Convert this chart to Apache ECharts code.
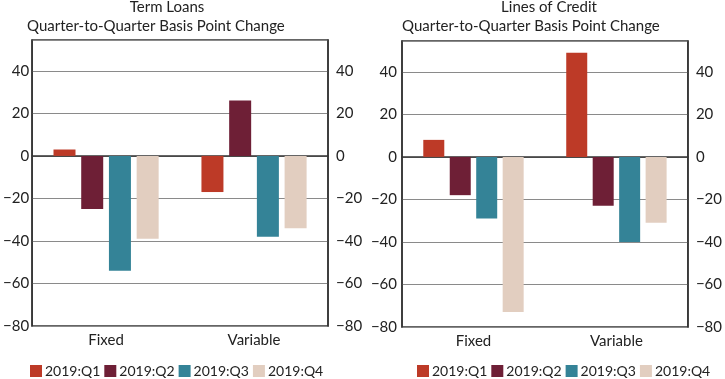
<!DOCTYPE html>
<html><head><meta charset="utf-8">
<script src="https://cdn.jsdelivr.net/npm/echarts@6/dist/echarts.min.js"></script>
<style>html,body{margin:0;padding:0;background:#fff}#c{width:725px;height:379px}</style>
</head><body><div id="c"></div>
<script>
const categories = ['Fixed', 'Variable'];
const seriesNames = ['2019:Q1', '2019:Q2', '2019:Q3', '2019:Q4'];
const termLoansQ1 = [3, -17];
const termLoansQ2 = [-25, 26];
const termLoansQ3 = [-54, -38];
const termLoansQ4 = [-39, -34];
const creditQ1 = [8, 49];
const creditQ2 = [-18, -23];
const creditQ3 = [-29, -40];
const creditQ4 = [-73, -31];
const panelTitles = ['Term Loans', 'Lines of Credit'];
const subTitle = 'Quarter-to-Quarter Basis Point Change';
const colors = ['#bd3a27', '#6e1f36', '#348397', '#e2cec0'];

const FONT = 'Lato';
const grids = [
  {left: 27, top: 40, width: 301, height: 286},
  {left: 402, top: 41, width: 292, height: 286}
];
const chart = echarts.init(document.getElementById('c'));
function yAx(gi, pos, margin, pad) {
  return {
    type: 'value', gridIndex: gi, position: pos, min: -80, max: 54.5, interval: 20,
    axisLine: {show: true, lineStyle: {color: '#333', width: 1.5}},
    axisTick: {show: false},
    splitLine: {show: pos === 'left', lineStyle: {color: '#8a8a8a', width: 1}},
    axisLabel: {show: true, showMaxLabel: false, margin: margin, color: '#222', fontFamily: FONT, fontSize: 15,
      padding: pad,
      formatter: v => (v % 20 === 0 ? (v < 0 ? '\u2212' + Math.abs(v) : String(v)) : '')}
  };
}
const data = [[termLoansQ1, termLoansQ2, termLoansQ3, termLoansQ4], [creditQ1, creditQ2, creditQ3, creditQ4]];
const barW = [22, 21];
const series = [];
for (let g = 0; g < 2; g++) {
  for (let i = 0; i < 4; i++) {
    series.push({
      type: 'bar', name: seriesNames[i], xAxisIndex: g, yAxisIndex: g * 2,
      data: data[g][i], barWidth: barW[g], barGap: '26%',
      itemStyle: {color: colors[i]}, silent: true
    });
  }
}
function legend(left) {
  return {
    data: seriesNames, left: left, top: 364, width: 330, padding: 0, icon: 'rect', itemWidth: 12, itemHeight: 12, itemGap: 4,
    textStyle: {fontFamily: FONT, fontSize: 14, color: '#222', padding: [0, 0, 0, -2]}, selectedMode: false
  };
}
const tStyle = {fontFamily: FONT, fontSize: 15, fontWeight: 'normal', color: '#222'};
chart.setOption({
  animation: false,
  textStyle: {fontFamily: FONT},
  title: [
    {text: panelTitles[0], left: 167, top: 0, padding: 0, textAlign: 'center', textStyle: tStyle},
    {text: subTitle, left: 27, top: 19, padding: 0, textStyle: tStyle},
    {text: panelTitles[1], left: 549, top: 0, padding: 0, textAlign: 'center', textStyle: tStyle},
    {text: subTitle, left: 402, top: 19, padding: 0, textStyle: tStyle}
  ],
  legend: [legend(30), legend(417)],
  grid: grids.map(g => Object.assign({show: true, borderColor: '#333', borderWidth: 1.5, backgroundColor: 'transparent'}, g)),
  xAxis: [0, 1].map(gi => ({
    type: 'category', gridIndex: gi, data: categories,
    axisLine: {show: true, lineStyle: {color: '#333', width: 1.5}},
    axisTick: {show: false},
    axisLabel: {margin: 7, color: '#222', fontFamily: FONT, fontSize: 15}
  })),
  yAxis: [yAx(0, 'left', 3, [0, 0, 4, 0]), yAx(0, 'right', 8, [10, 0, 0, 0]), yAx(1, 'left', 5, [0, 0, 4, 0]), yAx(1, 'right', 8, [10, 0, 0, 0])],
  series: series
});
</script></body></html>
